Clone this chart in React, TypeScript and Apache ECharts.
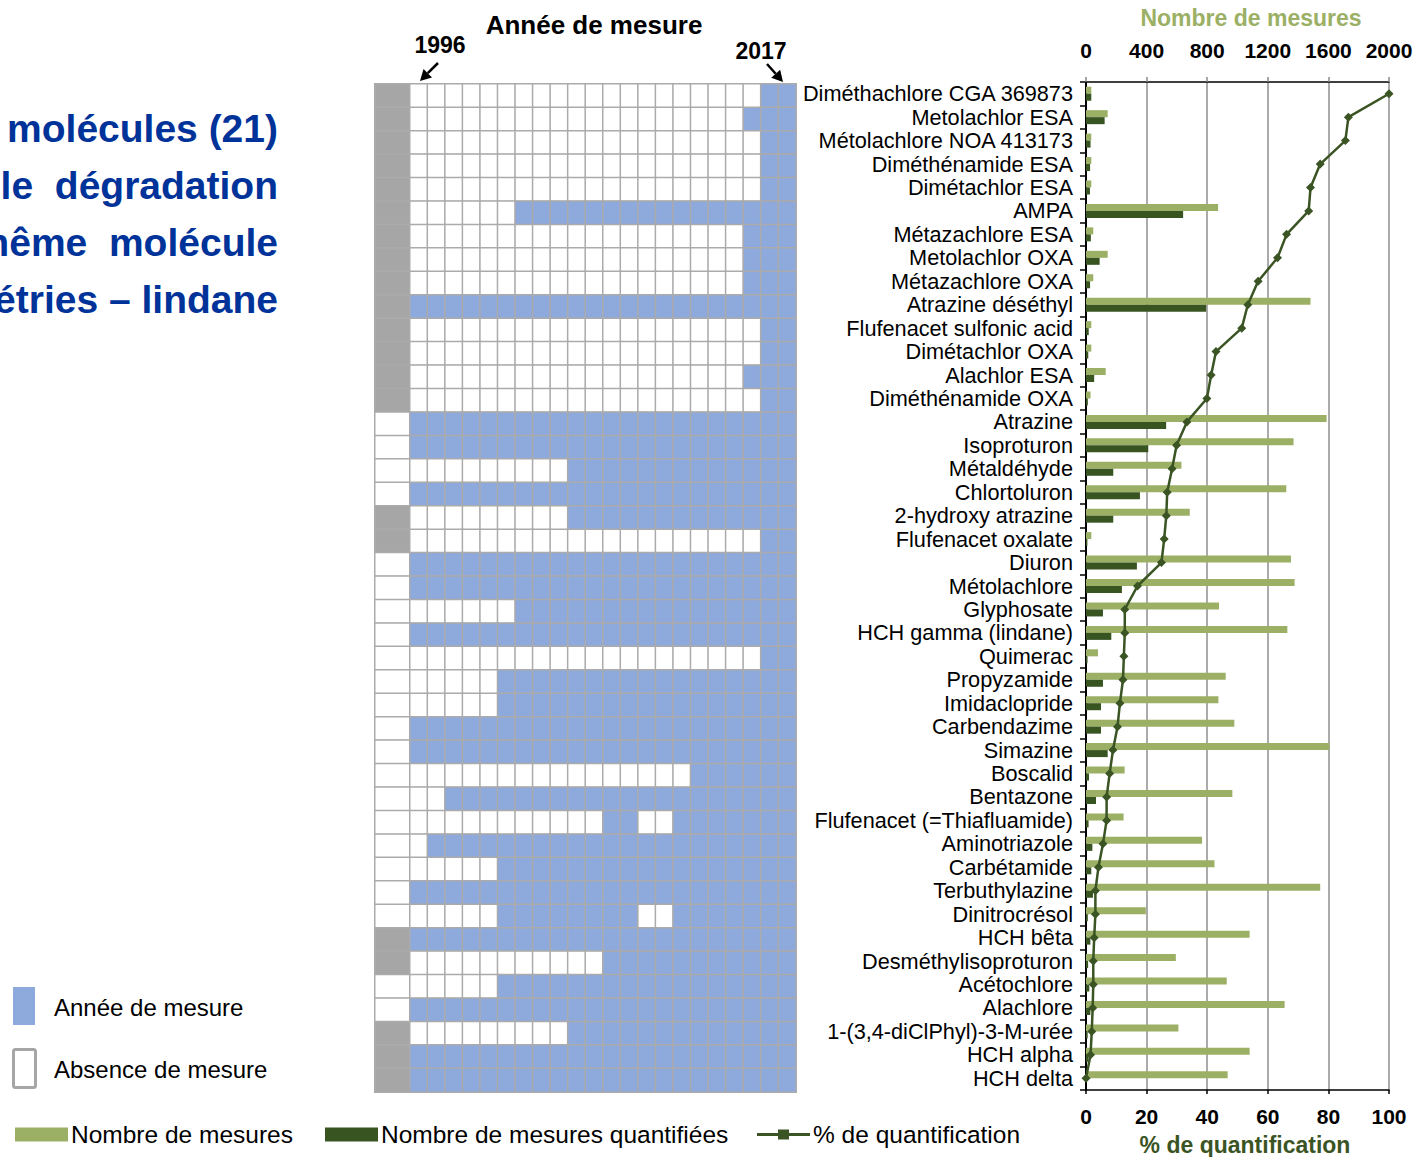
import React, { useEffect, useRef } from "react";
import * as echarts from "echarts";

const molecules = [
  "Diméthachlore CGA 369873",
  "Metolachlor ESA",
  "Métolachlore NOA 413173",
  "Diméthénamide ESA",
  "Dimétachlor ESA",
  "AMPA",
  "Métazachlore ESA",
  "Metolachlor OXA",
  "Métazachlore OXA",
  "Atrazine déséthyl",
  "Flufenacet sulfonic acid",
  "Dimétachlor OXA",
  "Alachlor ESA",
  "Diméthénamide OXA",
  "Atrazine",
  "Isoproturon",
  "Métaldéhyde",
  "Chlortoluron",
  "2-hydroxy atrazine",
  "Flufenacet oxalate",
  "Diuron",
  "Métolachlore",
  "Glyphosate",
  "HCH gamma (lindane)",
  "Quimerac",
  "Propyzamide",
  "Imidaclopride",
  "Carbendazime",
  "Simazine",
  "Boscalid",
  "Bentazone",
  "Flufenacet (=Thiafluamide)",
  "Aminotriazole",
  "Carbétamide",
  "Terbuthylazine",
  "Dinitrocrésol",
  "HCH bêta",
  "Desméthylisoproturon",
  "Acétochlore",
  "Alachlore",
  "1-(3,4-diClPhyl)-3-M-urée",
  "HCH alpha",
  "HCH delta",
];

const years = [
  "1996", "1997", "1998", "1999", "2000", "2001", "2002", "2003", "2004", "2005", "2006",
  "2007", "2008", "2009", "2010", "2011", "2012", "2013", "2014", "2015", "2016", "2017",
];

// first year of measurement for each molecule
const firstYear = [
  2016, 2015, 2016, 2016, 2016, 2002, 2015, 2015, 2015, 1996, 2016,
  2016, 2015, 2016, 1996, 1996, 2005, 1996, 2005, 2016, 1996, 1996,
  2002, 1996, 2016, 2001, 2001, 1996, 1996, 2012, 1998, 2007, 1997,
  2001, 1996, 2001, 1996, 2007, 2001, 1996, 2005, 1996, 1996,
];

// years without measurement after the first year
const gapYears: Record<string, string[]> = {
  "Flufenacet (=Thiafluamide)": ["2009", "2010"],
  "Dinitrocrésol": ["2009", "2010"],
};

// grey marker in the first column (1 = grey, 0 = white)
const greyMarker = [
  1, 1, 1, 1, 1, 1, 1, 1, 1, 1, 1, 1, 1, 1,
  0, 0, 0, 0, 1, 1, 0, 0, 0, 0, 0, 0, 0, 0, 0, 0, 0, 0, 0, 0, 0, 0,
  1, 1, 0, 0, 1, 1, 1,
];

const nbMesures = [
  35, 143, 35, 35, 35, 872, 48, 143, 48, 1482, 35, 35, 130, 30, 1588, 1370, 630, 1322,
  685, 35, 1353, 1377, 878, 1329, 79, 922, 874, 979, 1607, 255, 966, 248, 766, 848,
  1546, 395, 1080, 593, 929, 1311, 610, 1080, 935,
];

const nbQuantifiees = [
  35, 123, 30, 27, 26, 641, 32, 90, 27, 793, 18, 15, 54, 12, 529, 411, 180, 356,
  180, 9, 336, 237, 112, 167, 10, 112, 99, 99, 143, 20, 66, 17, 42, 35,
  46, 12, 29, 14, 22, 29, 11, 17, 0,
];

const pctQuantification = [
  100, 86.6, 85.6, 77.3, 74.1, 73.5, 66.2, 63.2, 56.8, 53.4, 51.4, 42.9, 41.3, 39.9,
  33.3, 29.9, 28.4, 26.8, 26.5, 25.8, 24.9, 17.0, 12.8, 12.8, 12.5, 12.2, 11.2, 10.4,
  8.9, 7.8, 6.8, 6.8, 5.6, 4.1, 3.1, 3.1, 2.7, 2.4, 2.4, 2.2, 1.9, 1.5, 0,
];

const titleLines = ["molécules (21)", "le  dégradation", "même  molécule", "étries – lindane"];

const FONT = "'Liberation Sans', Arial, sans-serif";
const BLUE = "#8EA9DB";
const GREY = "#A6A6A6";
const LIGHT_GREEN = "#9BB065";
const DARK_GREEN = "#375421";
const LINE_GREEN = "#3A5424";

function arrow(x1: number, y1: number, x2: number, y2: number) {
  const dx = x2 - x1;
  const dy = y2 - y1;
  const len = Math.sqrt(dx * dx + dy * dy);
  const ux = dx / len;
  const uy = dy / len;
  const hl = 11;
  const hw = 6;
  const bx = x2 - ux * hl;
  const by = y2 - uy * hl;
  return [
    {
      type: "line",
      shape: { x1, y1, x2: bx, y2: by },
      style: { stroke: "#000", lineWidth: 2.5 },
    },
    {
      type: "polygon",
      shape: {
        points: [
          [x2, y2],
          [bx - uy * hw, by + ux * hw],
          [bx + uy * hw, by - ux * hw],
        ],
      },
      style: { fill: "#000" },
    },
  ];
}

export default function App() {
  const ref = useRef<HTMLDivElement>(null);

  useEffect(() => {
    if (!ref.current) return;
    const chart = echarts.init(ref.current, null, { renderer: "svg" });

    const yearCells: number[][] = [];
    molecules.forEach((m, i) => {
      const gaps = gapYears[m] || [];
      years.forEach((y, j) => {
        const measured = Number(y) >= firstYear[i] && gaps.indexOf(y) < 0 ? 1 : 0;
        yearCells.push([j, i, measured]);
      });
    });
    const markerCells = molecules.map((_, i) => [0, i, greyMarker[i] ? 2 : 0]);

    const hiddenAxis = {
      axisLine: { show: false },
      axisTick: { show: false },
      axisLabel: { show: false },
      splitLine: { show: false },
    };

    const graphics: any[] = [];
    titleLines.forEach((t, i) => {
      graphics.push({
        type: "text",
        x: 278,
        y: 128 + i * 57,
        style: {
          text: t,
          fill: "#003399",
          font: `bold 39px ${FONT}`,
          textAlign: "right",
          textVerticalAlign: "middle",
        },
      });
    });
    graphics.push(
      {
        type: "text",
        x: 594,
        y: 25,
        style: { text: "Année de mesure", fill: "#000", font: `bold 26px ${FONT}`, textAlign: "center", textVerticalAlign: "middle" },
      },
      {
        type: "text",
        x: 440,
        y: 45,
        style: { text: "1996", fill: "#000", font: `bold 23px ${FONT}`, textAlign: "center", textVerticalAlign: "middle" },
      },
      {
        type: "text",
        x: 761,
        y: 51,
        style: { text: "2017", fill: "#000", font: `bold 23px ${FONT}`, textAlign: "center", textVerticalAlign: "middle" },
      },
      ...arrow(438, 63, 420, 81),
      ...arrow(767, 64, 783, 82),
      {
        type: "text",
        x: 1251,
        y: 18,
        style: { text: "Nombre de mesures", fill: LIGHT_GREEN, font: `bold 23px ${FONT}`, textAlign: "center", textVerticalAlign: "middle" },
      },
      {
        type: "text",
        x: 1245,
        y: 1145,
        style: { text: "% de quantification", fill: LINE_GREEN, font: `bold 23px ${FONT}`, textAlign: "center", textVerticalAlign: "middle" },
      },
      {
        type: "rect",
        shape: { x: 13, y: 987, width: 22, height: 38 },
        style: { fill: BLUE },
      },
      {
        type: "rect",
        shape: { x: 13.5, y: 1049.5, width: 22, height: 38, r: 2 },
        style: { fill: "#fff", stroke: GREY, lineWidth: 3 },
      },
      {
        type: "text",
        x: 54,
        y: 1007,
        style: { text: "Année de mesure", fill: "#000", font: `24px ${FONT}`, textVerticalAlign: "middle" },
      },
      {
        type: "text",
        x: 54,
        y: 1069,
        style: { text: "Absence de mesure", fill: "#000", font: `24px ${FONT}`, textVerticalAlign: "middle" },
      }
    );

    const legendBase = {
      orient: "horizontal",
      top: 1122,
      padding: 0,
      itemWidth: 53,
      itemHeight: 14,
      selectedMode: false,
      textStyle: { fontSize: 24.5, color: "#000", fontFamily: FONT, padding: [0, 0, 0, -2] },
    };

    chart.setOption({
      animation: false,
      backgroundColor: "#fff",
      textStyle: { fontFamily: FONT },
      grid: [
        { left: 375, top: 84, width: 35, height: 1008, outerBoundsMode: "none" },
        { left: 410, top: 84, width: 386, height: 1008, outerBoundsMode: "none" },
        { left: 1086, top: 82, width: 303, height: 1008, outerBoundsMode: "none" },
      ],
      xAxis: [
        { type: "category", gridIndex: 0, data: ["type"], ...hiddenAxis },
        { type: "category", gridIndex: 1, data: years, ...hiddenAxis },
        {
          type: "value",
          gridIndex: 2,
          position: "top",
          min: 0,
          max: 2000,
          interval: 400,
          axisLine: { show: true, lineStyle: { color: "#000", width: 1.5 } },
          axisTick: { show: true, length: 5, lineStyle: { color: "#888", width: 1.5 } },
          axisLabel: {
            fontSize: 21,
            fontWeight: "bold",
            color: "#000",
            margin: 21,
            fontFamily: FONT,
            formatter: (v: number) => String(v),
          },
          splitLine: { show: true, lineStyle: { color: "#8f8f8f", width: 1.5 } },
        },
        {
          type: "value",
          gridIndex: 2,
          position: "bottom",
          min: 0,
          max: 100,
          interval: 20,
          axisLine: { show: true, lineStyle: { color: "#000", width: 1.5 } },
          axisTick: { show: true, length: 4, lineStyle: { color: "#000", width: 1.5 } },
          axisLabel: {
            fontSize: 21,
            fontWeight: "bold",
            color: "#000",
            margin: 16,
            fontFamily: FONT,
            formatter: (v: number) => String(v),
          },
          splitLine: { show: false },
        },
      ],
      yAxis: [
        { type: "category", gridIndex: 0, data: molecules, inverse: true, ...hiddenAxis },
        { type: "category", gridIndex: 1, data: molecules, inverse: true, ...hiddenAxis },
        {
          type: "category",
          gridIndex: 2,
          data: molecules,
          inverse: true,
          axisLine: { show: true, lineStyle: { color: "#000", width: 2 } },
          axisTick: { show: true, length: 6, lineStyle: { color: "#000", width: 1.5 } },
          axisLabel: { fontSize: 21.7, color: "#000", margin: 13, fontFamily: FONT, interval: 0 },
          splitLine: { show: false },
        },
      ],
      visualMap: {
        type: "piecewise",
        show: false,
        dimension: 2,
        seriesIndex: [0, 1],
        pieces: [
          { value: 0, color: "#ffffff" },
          { value: 1, color: BLUE },
          { value: 2, color: GREY },
        ],
      },
      legend: [
        { ...legendBase, left: 15, data: [{ name: "Nombre de mesures", icon: "rect" }] },
        { ...legendBase, left: 325, data: [{ name: "Nombre de mesures quantifiées", icon: "rect" }] },
        {
          ...legendBase,
          left: 757,
          data: [
            {
              name: "% de quantification",
              icon: "path://M0,5.5h21v-3.5h11v3.5h21v3h-21v3.5h-11v-3.5h-21z",
            },
          ],
        },
      ],
      series: [
        {
          type: "heatmap",
          name: "marker",
          xAxisIndex: 0,
          yAxisIndex: 0,
          data: markerCells,
          itemStyle: { borderColor: "#ababab", borderWidth: 1.5 },
          emphasis: { disabled: true },
        },
        {
          type: "heatmap",
          name: "years",
          xAxisIndex: 1,
          yAxisIndex: 1,
          data: yearCells,
          itemStyle: { borderColor: "#ababab", borderWidth: 1.5 },
          emphasis: { disabled: true },
        },
        {
          type: "bar",
          name: "Nombre de mesures",
          xAxisIndex: 2,
          yAxisIndex: 2,
          data: nbMesures,
          barWidth: 7,
          barGap: "0%",
          itemStyle: { color: LIGHT_GREEN },
        },
        {
          type: "bar",
          name: "Nombre de mesures quantifiées",
          xAxisIndex: 2,
          yAxisIndex: 2,
          data: nbQuantifiees,
          barWidth: 7,
          barGap: "0%",
          itemStyle: { color: DARK_GREEN },
        },
        {
          type: "line",
          name: "% de quantification",
          xAxisIndex: 3,
          yAxisIndex: 2,
          data: pctQuantification,
          symbol: "diamond",
          symbolSize: 9,
          z: 5,
          lineStyle: { color: LINE_GREEN, width: 2.5 },
          itemStyle: { color: LINE_GREEN },
        },
      ],
      graphic: graphics,
    });

    return () => chart.dispose();
  }, []);

  return (
    <div
      ref={ref}
      style={{ position: "absolute", left: 0, top: 0, width: 1414, height: 1157 }}
    />
  );
}
